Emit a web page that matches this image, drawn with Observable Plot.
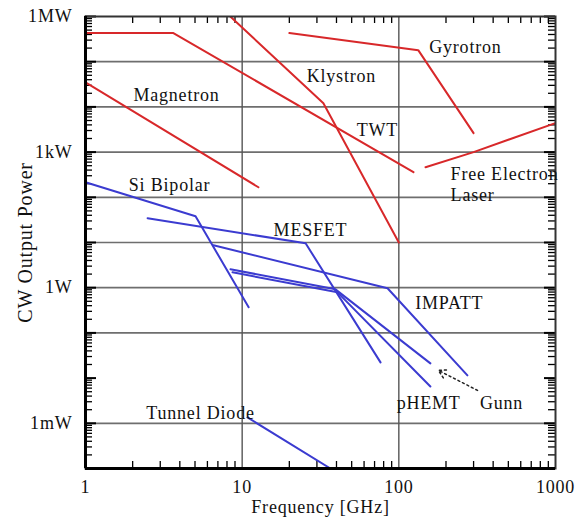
<!DOCTYPE html>
<html><head><meta charset="utf-8">
<script src="https://cdn.jsdelivr.net/npm/d3@7"></script>
<script src="https://cdn.jsdelivr.net/npm/@observablehq/plot@0.6"></script>
<style>
body{margin:0;background:#fff}
svg text{letter-spacing:0.8px}
svg text.ylab{letter-spacing:1.4px}
</style></head><body><div id="chart"></div>
<script>
// ---- data: [frequency GHz, CW power W] ----
const magnetron = [[1, 35000], [12.7, 167]];
const twt       = [[1, 430000], [3.64, 430000], [124, 360]];
const klystron  = [[8.4, 1000000], [33, 12100], [100, 10]];
const gyrotron  = [[20, 430000], [133, 180000], [300, 2630]];
const fel       = [[148, 464], [300, 1000], [1000, 4400]];
const siBipolar = [[1, 216], [5.04, 38], [11, 0.37]];
const mesfet    = [[2.49, 34.4], [25.4, 9.6], [76.4, 0.0223]];
const impatt    = [[6.56, 8.7], [84.7, 0.97], [274, 0.0115]];
const gunn      = [[8.42, 2.56], [39.4, 0.92], [159, 0.0212]];
const phemt     = [[8.68, 2.19], [40.6, 0.79], [159, 0.0065]];
const tunnel    = [[10.8, 0.00135], [36.6, 0.0001]];

const redSeries  = {Magnetron: magnetron, TWT: twt, Klystron: klystron, Gyrotron: gyrotron, FEL: fel};
const blueSeries = {"Si Bipolar": siBipolar, MESFET: mesfet, IMPATT: impatt, Gunn: gunn, pHEMT: phemt, "Tunnel Diode": tunnel};

// centred labels
const labelText  = ["Magnetron", "Klystron", "Gyrotron", "TWT", "Si Bipolar", "MESFET", "IMPATT", "pHEMT", "Gunn", "Tunnel Diode"];
const labelF     = [3.81, 43, 266, 73, 3.44, 27.3, 210, 155, 452, 5.42];
const labelP     = [18200, 48000, 211000, 3060, 185, 18.7, 0.451, 0.00275, 0.00275, 0.00165];
// left-aligned labels
const leftText   = ["Free Electron", "Laser"];
const leftF      = [214, 214];
const leftP      = [330, 112];

const arrowFrom = [318, 0.00534];
const arrowTo   = [179, 0.0148];

const xTicks = [1, 10, 100, 1000];
const xTickLabels = ["1", "10", "100", "1000"];
const yTicks = [1e6, 1e3, 1, 1e-3];
const yTickLabels = ["1MW", "1kW", "1W", "1mW"];
const gridX = [10, 100];
const gridY = [1e5, 1e4, 1e3, 1e2, 1e1, 1, 0.1, 1e-3];

// ---- layout ----
const W = 585, H = 521, mt = 16, mb = 53, ml = 85, mr = 30;
const frameH = H - mt - mb, frameW = W - ml - mr;
const red = "#d8282a", blue = "#3b3bd0";
const font = "'Liberation Serif','Times New Roman',serif";

const toRows = obj => Object.entries(obj).flatMap(([name, pts]) => pts.map(([f, p]) => ({name, f, p})));
const redRows = toRows(redSeries), blueRows = toRows(blueSeries);
const labels = labelText.map((t, i) => ({t, f: labelF[i], p: labelP[i]}));
const leftLabels = leftText.map((t, i) => ({t, f: leftF[i], p: leftP[i]}));

const minorX = [];
for (const d of [1, 10, 100]) for (let k = 2; k <= 9; k++) minorX.push(d * k);
const minorY = [];
for (let e = -4; e < 6; e++) for (let k = 2; k <= 9; k++) minorY.push(k * Math.pow(10, e));
const majorY = [];
for (let e = -4; e <= 6; e++) majorY.push(Math.pow(10, e));

const tk = {stroke: "#000", strokeWidth: 1.3};
const mk = {stroke: "#000", strokeWidth: 2};
const tx = {fontSize: 18, fill: "#111"};

const chart = Plot.plot({
  width: W, height: H, marginTop: mt, marginBottom: mb, marginLeft: ml, marginRight: mr,
  style: {fontFamily: font, fontSize: "18px", color: "#111", background: "#fff"},
  x: {type: "log", domain: [1, 1000]},
  y: {type: "log", domain: [1e-4, 1e6]},
  marks: [
    Plot.ruleY(gridY, {stroke: "#6e6e6e", strokeWidth: 1.7}),
    Plot.ruleX(gridX, {stroke: "#555", strokeWidth: 1.4}),
    Plot.tickX(minorX, {x: d => d, insetTop: frameH - 7, ...tk}),
    Plot.tickX(minorX, {x: d => d, insetBottom: frameH - 7, ...tk}),
    Plot.tickY(minorY, {y: d => d, insetRight: frameW - 7, ...tk}),
    Plot.tickY(minorY, {y: d => d, insetLeft: frameW - 7, ...tk}),
    Plot.tickY(majorY, {y: d => d, insetRight: frameW - 11, ...mk}),
    Plot.tickY(majorY, {y: d => d, insetLeft: frameW - 11, ...mk}),
    Plot.line(redRows, {x: "f", y: "p", z: "name", stroke: red, strokeWidth: 2, clip: true}),
    Plot.line(blueRows, {x: "f", y: "p", z: "name", stroke: blue, strokeWidth: 2, clip: true}),
    Plot.frame({stroke: "#333", strokeWidth: 2}),
    Plot.ruleX([1], {stroke: "#000", strokeWidth: 3}),
    Plot.ruleY([1e-4], {stroke: "#000", strokeWidth: 3}),
    Plot.axisX({ticks: xTicks, tickSize: 0, tickPadding: 12, tickFormat: d => xTickLabels[xTicks.indexOf(d)], label: null, ...tx}),
    Plot.axisY({ticks: yTicks, tickSize: 0, tickPadding: 13, tickFormat: d => yTickLabels[yTicks.indexOf(d)], label: null, ...tx}),
    Plot.text(labels, {x: "f", y: "p", text: "t", textAnchor: "middle", ...tx}),
    Plot.text(leftLabels, {x: "f", y: "p", text: "t", textAnchor: "start", ...tx}),
    Plot.arrow([0], {x1: () => arrowFrom[0], y1: () => arrowFrom[1], x2: () => arrowTo[0], y2: () => arrowTo[1], stroke: "#222", strokeWidth: 1.5, strokeDasharray: "2,3", headLength: 9}),
    Plot.text(["Frequency [GHz]"], {frameAnchor: "bottom", dy: 39, lineAnchor: "middle", textAnchor: "middle", ...tx}),
    Plot.text(["CW Output Power"], {frameAnchor: "left", dx: -60, rotate: -90, textAnchor: "middle", lineAnchor: "middle", className: "ylab", fontSize: 20, fill: "#111"})
  ]
});
document.getElementById("chart").appendChild(chart);
</script></body></html>
